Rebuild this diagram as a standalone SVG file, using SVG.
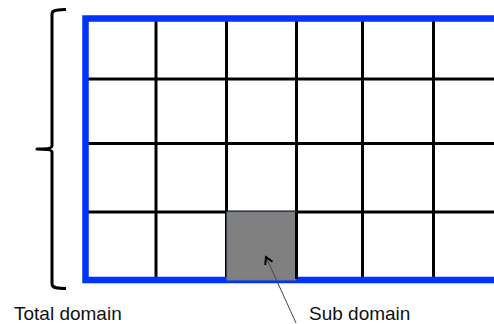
<svg xmlns="http://www.w3.org/2000/svg" width="494" height="324" viewBox="0 0 494 324">
<style>
.grid{stroke:#000;stroke-width:3;fill:none}
.border{stroke:#0033ff;stroke-width:6.5;fill:none}
.label{font-family:"Liberation Sans",Arial,sans-serif;font-size:19px;fill:#111}
.brace{stroke:#000;stroke-width:3;fill:none;stroke-linejoin:round}
</style>
<defs>
<marker id="arr" markerWidth="10" markerHeight="10" refX="8" refY="5" orient="auto" markerUnits="userSpaceOnUse">
<path d="M1,1 L8,5 L1,9" fill="none" stroke="#000" stroke-width="2"/>
</marker>
</defs>
<rect width="494" height="324" fill="#fff"/>
<g id="total-domain">
<path class="grid" d="M86,79H494M86,143.5H494M86,212H494M156,19V280M226.5,19V280M296.5,19V280M362.5,19V280M433.5,19V280"/>
<path class="border" d="M494,18.5H85.5V280H494"/>
</g>
<g id="sub-domain">
<rect x="227" y="212" width="69" height="68" fill="#808080" stroke="#6b7b93" stroke-width="1"/>
<path class="grid" d="M296.5,212V279"/>
</g>
<g id="brace">
<path class="brace" d="M66,9.5 C57,10 52,10 52,14 V146 C52,148 48,149 37,149 C48,149 52,150 52,152 V284 C52,288 57,288.5 66,288.5"/>
</g>
<g id="labels">
<text class="label" x="14" y="319.5">Total domain</text>
<text class="label" x="309" y="319.5">Sub domain</text>
</g>
<g id="connectors">
<line x1="296" y1="323" x2="266" y2="257" stroke="#444" stroke-width="1" marker-end="url(#arr)"/>
</g>
</svg>
